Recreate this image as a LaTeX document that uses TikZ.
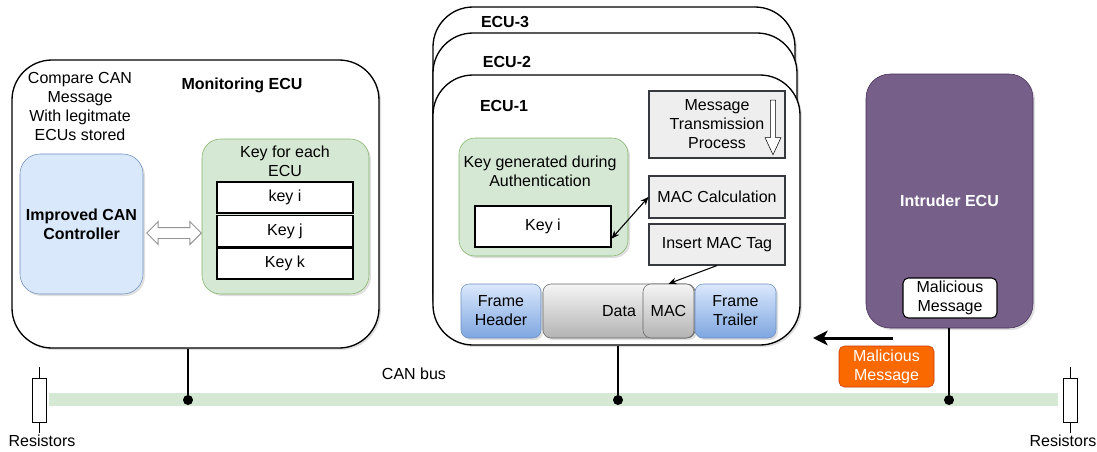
\documentclass[tikz,border=0pt]{standalone}
\usepackage{fontspec}
\setmainfont{Liberation Sans}
\usetikzlibrary{shapes.arrows,shadows,arrows.meta}

\definecolor{busgreen}{HTML}{D5E8D4}
\definecolor{ctrlfill}{HTML}{DAE8FC}
\definecolor{ctrlblue}{HTML}{6C8EBF}
\definecolor{keyfill}{HTML}{D5E8D4}
\definecolor{keygreen}{HTML}{82B366}
\definecolor{procfill}{HTML}{EEEEEE}
\definecolor{procedge}{HTML}{36393D}
\definecolor{fbluelow}{HTML}{7EA6E0}
\definecolor{grayhigh}{HTML}{F5F5F5}
\definecolor{graylow}{HTML}{B3B3B3}
\definecolor{grayedge}{HTML}{666666}
\definecolor{intrfill}{HTML}{76608A}
\definecolor{intredge}{HTML}{432D57}
\definecolor{orangefill}{HTML}{FA6800}
\definecolor{orangeedge}{HTML}{C73500}

\begin{document}
\begin{tikzpicture}[x=0.75pt, y=-0.75pt,
	% Define the styles for the nodes
	every node/.style={font=\fontsize{12}{14.25}\selectfont, align=center, inner sep=0pt},
	bold/.style={font=\fontsize{12}{14.25}\selectfont\bfseries},
	sh/.style={drop shadow={shadow xshift=1.5pt, shadow yshift=-1.5pt, opacity=0.25}},
	ecubox/.style={draw, line width=1pt, fill=white, rounded corners=30pt, sh},
	bluebox/.style={draw=ctrlblue, fill=ctrlfill, rounded corners=15pt, sh},
	greenbox/.style={draw=keygreen, fill=keyfill, rounded corners=14pt, sh},
	keycell/.style={draw, thick, fill=white},
	procbox/.style={draw=procedge, fill=procfill, thick, minimum width=102pt},
	fblue/.style={draw=ctrlblue, top color=ctrlfill, bottom color=fbluelow, rounded corners=6pt, sh, minimum height=40.5pt},
	fgray/.style={draw=grayedge, top color=grayhigh, bottom color=graylow, rounded corners=6pt, minimum height=40.5pt},
	busline/.style={line width=1.5pt},
	dot/.style={circle, fill=black, minimum size=7.5pt},
	resistor/.style={draw, fill=white, minimum width=10.5pt, minimum height=33pt}
	]
	\useasboundingbox (0,0) rectangle (1097,451);
	
	% --- CAN BUS ---
	\node (bus) at (553.5,399.5) [fill=busgreen, minimum width=756.75pt, minimum height=9.75pt] {};
	\node (buslbl) at (414,374) {CAN bus};
	
	% --- MONITORING ECU ---
	\node (mon) at (195.5,204) [ecubox, minimum width=275.25pt, minimum height=216pt] {};
	\node (monlbl) at (242,85) [bold] {Monitoring ECU};
	\node (cmp) at (80,106) {Compare CAN\\Message\\With legitmate\\ECUs stored};
	\node (ctrl) at (81.5,224) [bluebox, bold, minimum width=92.25pt, minimum height=105pt] {Improved CAN\\Controller};
	\node (keys) at (285.5,216.5) [greenbox, minimum width=125.25pt, minimum height=116.25pt] {};
	\node (keyslbl) at (285,161.5) {Key for each\\ECU};
	\node (ki) at (285,197.5) [keycell, minimum width=102pt, minimum height=23.25pt] {key i};
	\node (kj) at (285,231) [keycell, minimum width=102pt, minimum height=23.25pt] {Key j};
	\node (kk) at (285,263.5) [keycell, minimum width=102pt, minimum height=23.25pt] {Key k};
	\node (link) at (174,233) [double arrow, draw=gray!85, fill=white, line width=0.7pt, inner sep=3.75pt, double arrow head extend=4.5pt, minimum height=41pt] {};
	
	% --- ECU STACK ---
	\node (ecu3) at (614,168.5) [ecubox, minimum width=271.5pt, minimum height=242.25pt] {};
	\node (ecu3lbl) at (505,22) [bold] {ECU-3};
	\node (ecu2) at (615,185.5) [ecubox, minimum width=273pt, minimum height=228.75pt] {};
	\node (ecu2lbl) at (507,62) [bold] {ECU-2};
	\node (ecu1) at (616.5,210) [ecubox, minimum width=275.25pt, minimum height=202.5pt] {};
	\node (ecu1lbl) at (504,106) [bold] {ECU-1};
	
	\node (mtp) at (717,124.5) [procbox, minimum height=50.25pt] {Message\\Transmission\\Process};
	\node (flow) at (773,124.5) [single arrow, shape border rotate=270, draw, fill=white, inner sep=1.8pt, single arrow head extend=4pt, single arrow tip angle=50, minimum height=41pt] {};
	\node (maccalc) at (717,197) [procbox, minimum height=31.5pt] {MAC Calculation};
	\node (insmac) at (717,244.5) [procbox, minimum height=30.75pt] {Insert MAC Tag};
	
	\node (keygen) at (543.5,197) [greenbox, rounded corners=12pt, minimum width=126.75pt, minimum height=88.5pt] {};
	\node (keygenlbl) at (540,171) {Key generated during\\Authentication};
	\node (keyi) at (543,226.5) [keycell, minimum width=102pt, minimum height=30.75pt] {Key i};
	
	\node (fhdr) at (501,311) [fblue, minimum width=60pt] {Frame\\Header};
	\node (data) at (619,311) [fgray, sh, minimum width=114pt] {Data};
	\node (mac) at (668.5,311) [fgray, minimum width=38.25pt] {MAC};
	\node (ftrl) at (735.5,311) [fblue, minimum width=60.75pt] {Frame\\Trailer};
	
	\draw[thick, {Stealth[length=6pt,width=5pt]}-{Stealth[length=6pt,width=5pt]}] (keyi.-10) -- (maccalc.west);
	\draw[thick, -{Stealth[length=6pt,width=5pt]}] (insmac.south) -- (mac.north);
	
	% --- INTRUDER ECU ---
	\node (intr) at (949.5,201) [draw=intredge, fill=intrfill, rounded corners=18pt, sh, minimum width=125.25pt, minimum height=190.5pt, text=white, bold] {Intruder ECU};
	\node (malin) at (950,298) [draw, thick, fill=white, rounded corners=4pt, minimum width=70.5pt, minimum height=30pt] {Malicious\\Message};
	\node (malout) at (886.5,366.5) [draw=orangeedge, fill=orangefill, text=white, rounded corners=4pt, minimum width=71.25pt, minimum height=30.75pt] {Malicious\\Message};
	\coordinate (atkA) at (893,338);
	\coordinate (atkB) at (813,338);
	\draw[line width=2.25pt, -{Stealth[length=11pt,width=11pt,inset=3pt]}] (atkA) -- (atkB);
	
	% --- BUS TAPS ---
	\node (d1) at (188,400) [dot] {};
	\node (d2) at (618,400) [dot] {};
	\node (d3) at (949,400) [dot] {};
	\draw[busline] (mon.south -| d1) -- (d1);
	\draw[busline] (ecu1.south -| d2) -- (d2);
	\draw[busline] (intr.south -| d3) -- (d3);
	
	% --- RESISTORS ---
	\node (r1) at (39,400) [resistor] {};
	\draw (r1.north) -- ++(0,-11);
	\draw (r1.south) -- ++(0,11);
	\node (r1lbl) at (42,441) {Resistors};
	\node (r2) at (1070,400) [resistor] {};
	\draw (r2.north) -- ++(0,-11);
	\draw (r2.south) -- ++(0,11);
	\node (r2lbl) at (1063,441) {Resistors};
	
\end{tikzpicture}
\end{document}
